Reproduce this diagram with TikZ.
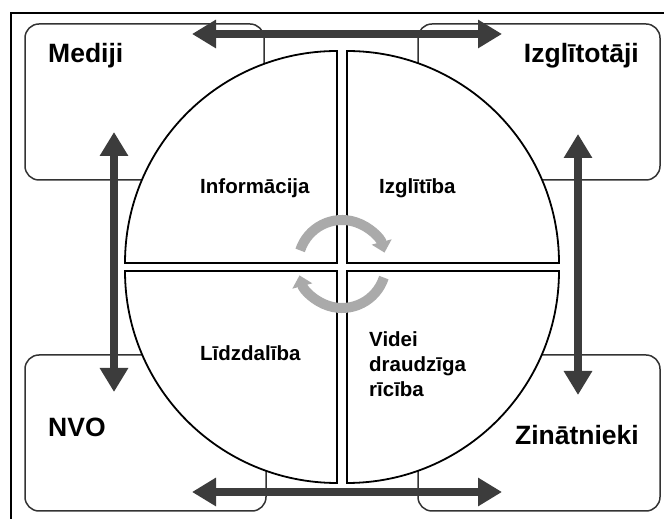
\documentclass[tikz,border=0pt]{standalone}
\usepackage{fontspec}
\setmainfont{Liberation Sans}
\usetikzlibrary{arrows.meta}
\definecolor{darkarrow}{HTML}{3C3C3C}
\definecolor{cyclegray}{HTML}{AAAAAA}
\definecolor{boxline}{HTML}{333333}
\tikzset{
  actorbox/.style={draw=boxline, line width=1.5pt, rounded corners=14pt, fill=white, inner sep=0pt},
  quadrant/.style={draw=black, line width=1.8pt, fill=white},
  bigarrow/.style={draw=darkarrow, line width=8pt, {Triangle[width=27pt,length=24pt]}-{Triangle[width=27pt,length=24pt]}},
  cyclearrow/.style={draw=cyclegray, line width=10pt, -{Triangle[width=20pt,length=11pt]}},
  actorlabel/.style={inner sep=0pt, font=\fontsize{26.5}{30}\selectfont\bfseries},
  topiclabel/.style={inner sep=0pt, font=\fontsize{20.5}{25}\selectfont\bfseries, align=left},
}
\begin{document}
\begin{tikzpicture}[x=1pt,y=1pt]
\useasboundingbox (0,0) rectangle (664,519);
% frame (top and left edges visible)
\draw[line width=1.8pt] (11,0) -- (11,506) -- (664,506);
% actor boxes
\node[actorbox, minimum width=239pt, minimum height=156pt] (mediji) at (144.5,417) {};
\node[actorbox, minimum width=242pt, minimum height=156pt] (izgl) at (539,417) {};
\node[actorbox, minimum width=241pt, minimum height=156pt] (nvo) at (145.5,86) {};
\node[actorbox, minimum width=242pt, minimum height=156pt] (zin) at (539,86) {};
% quadrants
\path[quadrant] (337,256) -- (125,256) arc (180:90:212) -- cycle;
\path[quadrant] (347,256) -- (347,468) arc (90:0:212) -- cycle;
\path[quadrant] (337,248) -- (337,36) arc (270:180:212) -- cycle;
\path[quadrant] (347,248) -- (559,248) arc (0:-90:212) -- cycle;
% coordinates for connectors
\coordinate (tl) at (192,485);
\coordinate (tr) at (502,485);
\coordinate (bl) at (192,27);
\coordinate (br) at (502,27);
\coordinate (lt) at (114,387);
\coordinate (lb) at (114,127);
\coordinate (rt) at (578,385);
\coordinate (rb) at (578,124);
% dark double arrows
\draw[bigarrow] (tl) -- (tr);
\draw[bigarrow] (bl) -- (br);
\draw[bigarrow] (lt) -- (lb);
\draw[bigarrow] (rt) -- (rb);
% cycle arrows
\coordinate (cc) at (342,255);
\draw[cyclearrow] ([shift={(162:44)}]cc) arc (162:15:44);
\draw[cyclearrow] ([shift={(-18:44)}]cc) arc (-18:-165:44);
% labels
\node[actorlabel, anchor=base west] (tmediji) at (48,456) {Mediji};
\node[actorlabel, anchor=base east] (tizgl) at (639,456) {Izglītotāji};
\node[actorlabel, anchor=base west] (tnvo) at (48,82) {NVO};
\node[actorlabel, anchor=base east] (tzin) at (639,74) {Zinātnieki};
\node[topiclabel, anchor=base west] (tinfo) at (200,325) {Informācija};
\node[topiclabel, anchor=base west] (tizglitiba) at (379,325) {Izglītība};
\node[topiclabel, anchor=base west] (tlidz) at (200,158) {Līdzdalība};
\node[topiclabel, anchor=base west] (tvidei) at (369,122) {Videi\\draudzīga\\rīcība};
\end{tikzpicture}
\end{document}
